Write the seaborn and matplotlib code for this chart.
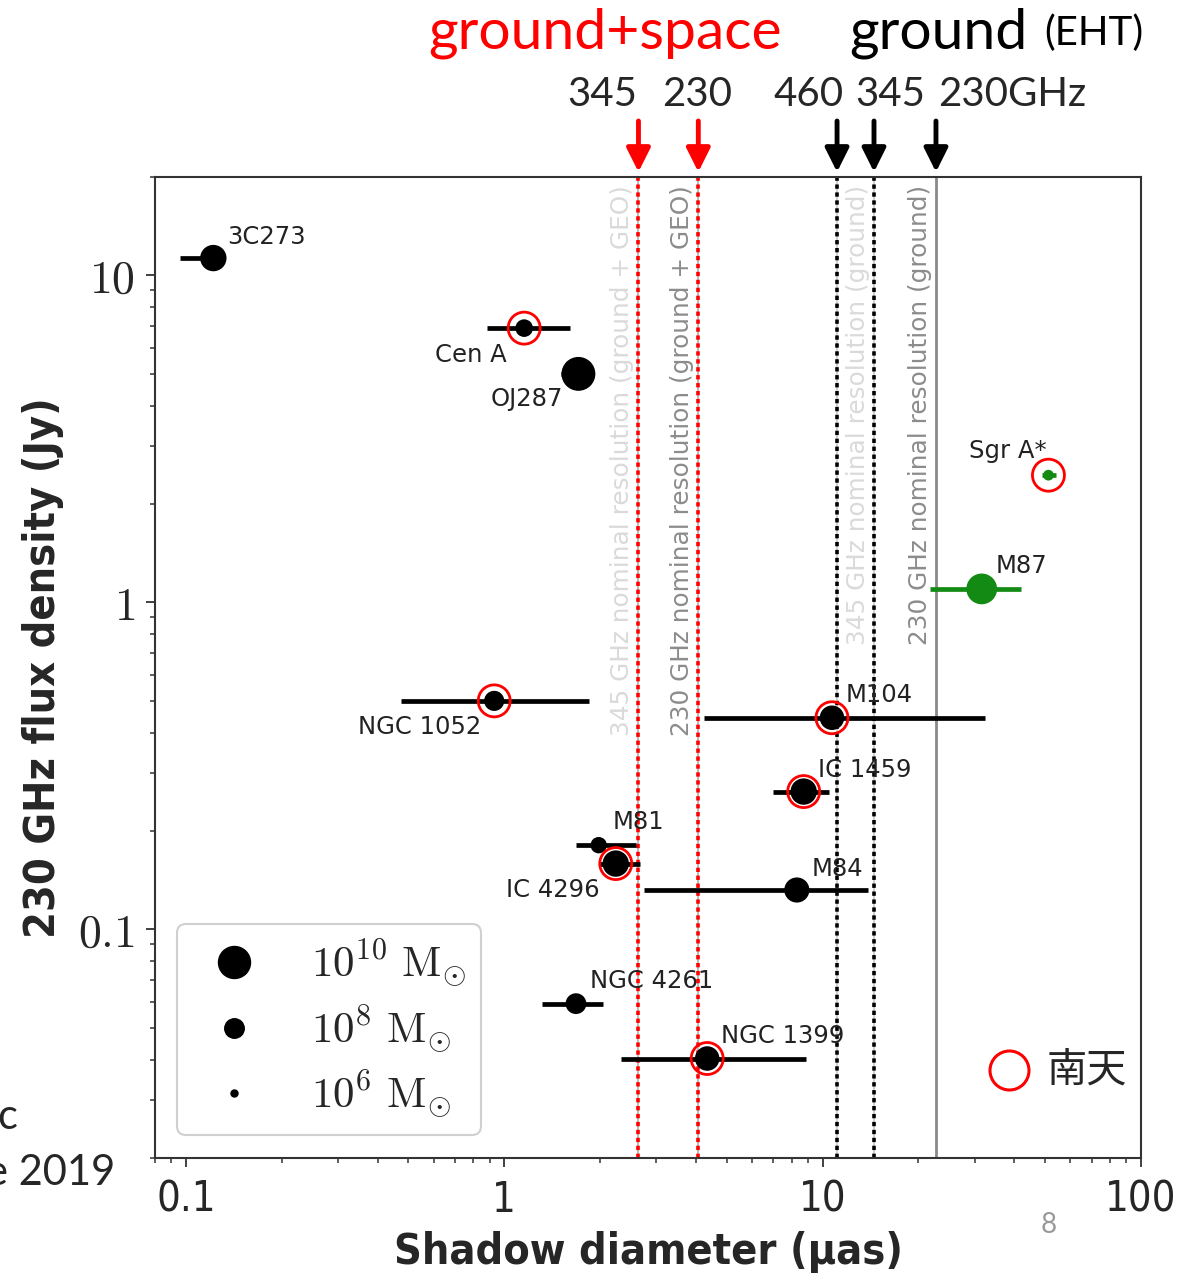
import numpy as np
import pandas as pd
import matplotlib
matplotlib.use("Agg")
import matplotlib.pyplot as plt
from matplotlib import font_manager
from matplotlib.lines import Line2D
from matplotlib.ticker import FixedLocator, FixedFormatter, LogLocator, NullFormatter
import seaborn as sns

# ---------------------------------------------------------------- data
names = ["3C273", "Cen A", "OJ287", "NGC 1052", "M104", "IC 1459", "M81",
         "IC 4296", "M84", "NGC 4261", "NGC 1399", "M87", "Sgr A*"]
shadow_uas = [0.122, 1.155, 1.71, 0.93, 10.7, 8.72, 1.98, 2.24, 8.3, 1.68, 4.34, 31.6, 51.2]
shadow_lo = [0.096, 0.885, 1.51, 0.473, 4.25, 6.98, 1.68, 2.0, 2.74, 1.31, 2.32, 21.8, 48.9]
shadow_hi = [0.128, 1.61, 1.80, 1.84, 32.3, 10.5, 2.59, 2.66, 13.9, 2.05, 8.85, 41.9, 54.0]
flux_jy = [11.3, 6.9, 5.0, 0.50, 0.444, 0.264, 0.181, 0.159, 0.132, 0.0593, 0.0403, 1.10, 2.45]
log_mass = [9.1, 7.7, 10.3, 8.1, 8.8, 9.1, 7.5, 9.1, 8.9, 8.2, 8.8, 9.8, 6.6]
southern = [False, True, False, True, True, True, False, True, False, False, True, False, True]
group = ["other"] * 11 + ["EHT", "EHT"]

# nominal resolutions (uas)
res_space_freq = ["345", "230"]
res_space_uas = [2.64, 4.07]
res_ground_freq = ["460", "345", "230"]
res_ground_uas = [11.1, 14.5, 22.7]

legend_logm = [10, 8, 6]
legend_labels = [r"$10^{10}\ \mathrm{M}_{\odot}$", r"$10^{8}\ \mathrm{M}_{\odot}$",
                 r"$10^{6}\ \mathrm{M}_{\odot}$"]

x_ticks = [0.1, 1, 10, 100]
x_ticklabels = ["0.1", "1", "10", "100"]
y_ticks = [0.1, 1, 10]
y_ticklabels = ["$0.1$", "$1$", "$10$"]

# ---------------------------------------------------------------- style
DPI = 100
W, H = 1193, 1276
PX = 72 / DPI  # points per pixel

sns.set_theme(style="ticks")
plt.rcParams["font.family"] = ["DejaVu Sans", "Noto Sans CJK JP"]
plt.rcParams["mathtext.fontset"] = "cm"
SLIDE = ["Lato", "DejaVu Sans"]

# condensed face for the axis titles
_names = {f.name for f in font_manager.fontManager.ttflist}
if "Liberation Sans Narrow" in _names:
    NARROW = dict(family="Liberation Sans Narrow")
    LBL_SIZE, TICK_SIZE = 35, 34
else:
    NARROW = dict(family="DejaVu Sans", stretch="condensed")
    LBL_SIZE, TICK_SIZE = 31, 30


def fx(px):
    return px / W


def fy(py):
    return 1 - py / H


def diameter_px(logm):
    return 7 + 6.25 * (logm - 6)


df = pd.DataFrame({
    "name": names, "shadow": shadow_uas, "lo": shadow_lo, "hi": shadow_hi,
    "flux": flux_jy, "logm": log_mass, "south": southern, "group": group,
})
df["s"] = (diameter_px(df["logm"]) * PX) ** 2
colors = {"other": "black", "EHT": "#138a13"}

fig = plt.figure(figsize=(W / DPI, H / DPI), dpi=DPI)
ax = fig.add_axes([fx(155), fy(1158), (1141 - 155) / W, (1158 - 177) / H])
ax.set_xscale("log")
ax.set_yscale("log")
ax.set_xlim(0.08, 100)
ax.set_ylim(0.02, 20)

# resolution limits
for xv in res_space_uas:
    ax.axvline(xv, color="#b0b0b0", lw=1.2, zorder=1)
    ax.axvline(xv, color="red", lw=2.6, ls=(0, (1.2, 1.0)), zorder=2)
for xv in res_ground_uas[:2]:
    ax.axvline(xv, color="#c8c8c8", lw=1.2, zorder=1)
    ax.axvline(xv, color="black", lw=2.6, ls=(0, (1.2, 1.0)), zorder=2)
ax.axvline(res_ground_uas[2], color="#8a8a8a", lw=2, zorder=1)

vtexts = [
    (res_space_uas[0], "345 GHz nominal resolution (ground + GEO)", "#dadada"),
    (res_space_uas[1], "230 GHz nominal resolution (ground + GEO)", "#8c8c8c"),
    (res_ground_uas[1], "345 GHz nominal resolution (ground)", "#dadada"),
    (res_ground_uas[2], "230 GHz nominal resolution (ground)", "#8c8c8c"),
]
for xv, txt, c in vtexts:
    ax.annotate(txt, xy=(xv, 0.992), xycoords=("data", "axes fraction"),
                xytext=(-16, 0), textcoords="offset pixels", rotation=90,
                ha="center", va="top", color=c, fontsize=17.8)

# error bars and markers
for g, sub in df.groupby("group"):
    ax.errorbar(sub["shadow"], sub["flux"],
                xerr=[sub["shadow"] - sub["lo"], sub["hi"] - sub["shadow"]],
                fmt="none", ecolor=colors[g], elinewidth=3.4, capsize=0, zorder=4)
sns.scatterplot(data=df, x="shadow", y="flux", hue="group", palette=colors,
                s=df["s"].to_numpy(), linewidth=0, legend=False, ax=ax, zorder=5)

south = df[df["south"]]
ax.scatter(south["shadow"], south["flux"], s=(32 * PX) ** 2, facecolors="none",
           edgecolors="red", linewidths=2, zorder=6)

label_offsets = {
    "3C273": (14, 21, "left"), "Cen A": (-17, -27, "right"),
    "OJ287": (-15, -25, "right"), "NGC 1052": (-13, -26, "right"),
    "M104": (14, 23, "left"), "IC 1459": (14, 22, "left"),
    "M81": (14, 23, "left"), "IC 4296": (-16, -26, "right"),
    "M84": (15, 21, "left"), "NGC 4261": (14, 23, "left"),
    "NGC 1399": (14, 23, "left"), "M87": (14, 23, "left"),
    "Sgr A*": (-2, 24, "right"),
}
for _, r in df.iterrows():
    dx, dy, ha = label_offsets[r["name"]]
    ax.annotate(r["name"], xy=(r["shadow"], r["flux"]), xytext=(dx, dy),
                textcoords="offset pixels", ha=ha, va="center",
                fontsize=17.5, color="#222222", zorder=7)

# axes, ticks
ax.xaxis.set_major_locator(FixedLocator(x_ticks))
ax.xaxis.set_major_formatter(FixedFormatter(x_ticklabels))
ax.yaxis.set_major_locator(FixedLocator(y_ticks))
ax.yaxis.set_major_formatter(FixedFormatter(y_ticklabels))
for axis in (ax.xaxis, ax.yaxis):
    axis.set_minor_locator(LogLocator(base=10, subs=np.arange(2, 10)))
    axis.set_minor_formatter(NullFormatter())
ax.tick_params(which="major", direction="out", length=9 * PX, width=1.3,
               color="#333333", pad=12 * PX)
ax.tick_params(which="minor", direction="out", length=5 * PX, width=1.1,
               color="#333333")
ax.tick_params(axis="x", labelsize=TICK_SIZE)
ax.tick_params(axis="y", labelsize=33, pad=11 * PX)
for lbl in ax.get_xticklabels():
    lbl.set_fontproperties(font_manager.FontProperties(size=TICK_SIZE, **NARROW))
for sp in ax.spines.values():
    sp.set_color("#333333")
    sp.set_linewidth(1.5)
    sp.set_visible(True)

lbl_font = font_manager.FontProperties(size=LBL_SIZE, weight="bold", **NARROW)
ax.set_xlabel("Shadow diameter (μas)", fontproperties=lbl_font, labelpad=10 * PX)
ax.set_ylabel("230 GHz flux density (Jy)", fontproperties=lbl_font, labelpad=14 * PX)

# mass legend
handles = [Line2D([], [], ls="none", marker="o", color="black",
                  markersize=diameter_px(m) * PX) for m in legend_logm]
leg = ax.legend(handles, legend_labels, loc="lower left",
                bbox_to_anchor=(22 / 986, 23 / 981), borderaxespad=0,
                fontsize=31, handlelength=2.0, handletextpad=0.8,
                labelspacing=0.3, borderpad=0.32, fancybox=True,
                framealpha=1, edgecolor="#d0d0d0")
leg.get_frame().set_linewidth(1.5)

# frequency arrows above the plot
arrow_style = "-|>,head_length=0.9,head_width=0.45"
for xv in res_space_uas:
    ax.annotate("", xy=(xv, 1 + 5 / 981), xycoords=("data", "axes fraction"),
                xytext=(xv, 1 + 56 / 981),
                arrowprops=dict(arrowstyle=arrow_style, color="red", lw=3.5,
                                shrinkA=0, shrinkB=0, mutation_scale=16),
                annotation_clip=False)
for xv in res_ground_uas:
    ax.annotate("", xy=(xv, 1 + 5 / 981), xycoords=("data", "axes fraction"),
                xytext=(xv, 1 + 56 / 981),
                arrowprops=dict(arrowstyle=arrow_style, color="black", lw=3.5,
                                shrinkA=0, shrinkB=0, mutation_scale=16),
                annotation_clip=False)

fig.text(fx(605), fy(33), "ground+space", color="red", fontsize=41,
         family=SLIDE, ha="center", va="center")
fig.text(fx(938), fy(33), "ground", color="black", fontsize=41,
         family=SLIDE, ha="center", va="center")
fig.text(fx(1094), fy(33), "(EHT)", color="black", fontsize=29,
         family=SLIDE, ha="center", va="center")
for xc, t in zip([602, 697], res_space_freq):
    fig.text(fx(xc), fy(95), t, fontsize=29, family=SLIDE, ha="center", va="center")
for xc, t in zip([809, 890, 1012], [res_ground_freq[0], res_ground_freq[1],
                                    res_ground_freq[2] + "GHz"]):
    fig.text(fx(xc), fy(95), t, fontsize=29, family=SLIDE, ha="center", va="center")

# southern-sky key
fig.add_artist(Line2D([fx(1009)], [fy(1070)], marker="o", markersize=39 * PX,
                      mfc="none", mec="red", mew=2.2, ls="none",
                      transform=fig.transFigure))
fig.text(fx(1087), fy(1070), "南天", fontsize=29, family=["Noto Sans CJK JP"],
         ha="center", va="center")

# slide remnants
fig.text(fx(17), fy(1117), "c", fontsize=30, family=SLIDE, ha="right", va="center")
fig.text(fx(115), fy(1173), "e 2019", fontsize=30, family=SLIDE, ha="right", va="center")
fig.text(fx(1049), fy(1225), "8", fontsize=20, family=SLIDE, color="#999999",
         ha="center", va="center")

fig.savefig("out.png", dpi=DPI)
